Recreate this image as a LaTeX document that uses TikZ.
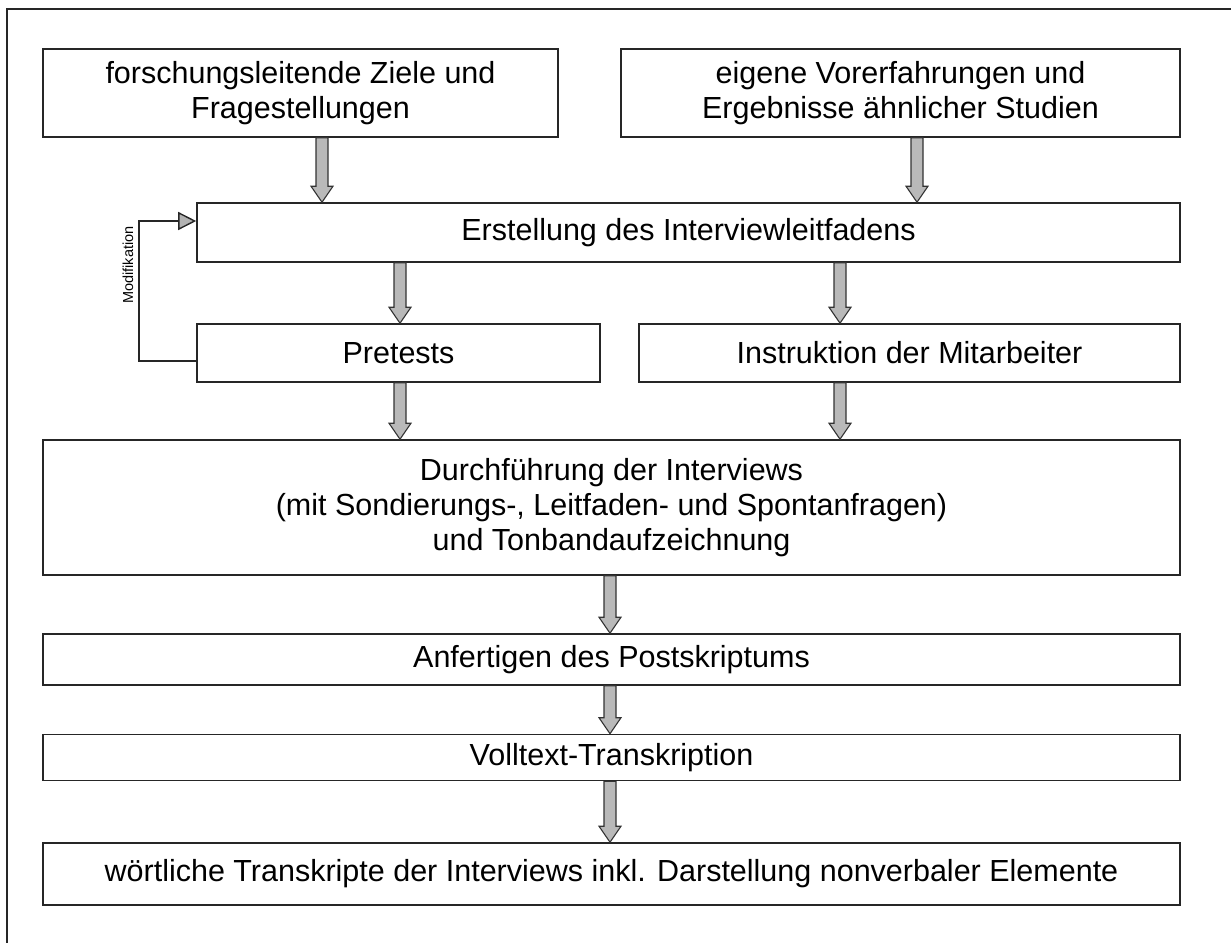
\documentclass[tikz,border=0pt]{standalone}
\usepackage{fontspec}
\setmainfont{Liberation Sans}
\usetikzlibrary{arrows.meta,calc}

\tikzset{
  box/.style={draw=black!85, line width=1.6pt, rectangle, align=center,
    inner sep=0pt, font=\fontsize{30.5}{35}\selectfont},
  blockarrow/.style={draw=black!80, fill=gray!55, line width=1.1pt,
    line join=miter,
    to path={let \p1=(\tikztostart), \p2=(\tikztotarget) in
      (\x1-6pt,\y1) -- (\x1+6pt,\y1) -- (\x1+6pt,\y2+16pt) -- (\x1+11pt,\y2+16pt)
      -- (\x1,\y2) -- (\x1-11pt,\y2+16pt) -- (\x1-6pt,\y2+16pt) -- cycle}},
  loopline/.style={draw=black!85, line width=1.4pt,
    -{Triangle[length=18pt,width=18pt,fill=gray!60]}},
}

\begin{document}
\begin{tikzpicture}[x=1pt,y=-1pt]
  \useasboundingbox (0,0) rectangle (1231,943);

  % outer frame (top and left edges)
  \draw[line width=1.6pt, draw=black!85] (1231,9) -- (7,9) -- (7,943);

  % boxes
  \node[box, minimum width=515pt, minimum height=88pt] (b1) at (300.5,93)
    {forschungsleitende Ziele und\\Fragestellungen};
  \node[box, minimum width=559pt, minimum height=88pt] (b2) at (900.5,93)
    {eigene Vorerfahrungen und\\Ergebnisse ähnlicher Studien};
  \node[box, minimum width=983pt, minimum height=59pt] (b3) at (688.5,232.5)
    {Erstellung des Interviewleitfadens};
  \node[box, minimum width=403pt, minimum height=58pt] (b4) at (398.5,353)
    {Pretests};
  \node[box, minimum width=541pt, minimum height=58pt] (b5) at (909.5,353)
    {Instruktion der Mitarbeiter};
  \node[box, minimum width=1137pt, minimum height=135pt] (b6) at (611.5,507.5)
    {Durchführung der Interviews\\(mit Sondierungs-, Leitfaden- und Spontanfragen)\\und Tonbandaufzeichnung};
  \node[box, minimum width=1137pt, minimum height=51pt] (b7) at (611.5,659.5)
    {Anfertigen des Postskriptums};
  \node[box, minimum width=1137pt, minimum height=46pt] (b8) at (611.5,757.5)
    {Volltext-Transkription};
  \node[box, minimum width=1137pt, minimum height=62pt] (b9) at (611.5,874)
    {wörtliche Transkripte der Interviews inkl. Darstellung nonverbaler Elemente};

  % x positions of the block arrows
  \coordinate (xa) at (322,0);
  \coordinate (xb) at (917,0);
  \coordinate (xc) at (400,0);
  \coordinate (xd) at (840,0);
  \coordinate (xe) at (610,0);

  \path[blockarrow] (b1.south -| xa) to (b3.north -| xa);
  \path[blockarrow] (b2.south -| xb) to (b3.north -| xb);
  \path[blockarrow] (b3.south -| xc) to (b4.north -| xc);
  \path[blockarrow] (b3.south -| xd) to (b5.north -| xd);
  \path[blockarrow] (b4.south -| xc) to (b6.north -| xc);
  \path[blockarrow] (b5.south -| xd) to (b6.north -| xd);
  \path[blockarrow] (b6.south -| xe) to (b7.north -| xe);
  \path[blockarrow] (b7.south -| xe) to (b8.north -| xe);
  \path[blockarrow] (b8.south -| xe) to (b9.north -| xe);

  % feedback loop from the pretests
  \coordinate (lb) at (139,361);
  \coordinate (lt) at (139,221);
  \draw[loopline] (b4.west |- lb) -- (lb) -- (lt) -- (b3.west |- lt);
  \node[rotate=90, font=\fontsize{14.5}{16}\selectfont, inner sep=0pt] (mod) at (128,265)
    {Modifikation};
\end{tikzpicture}
\end{document}
